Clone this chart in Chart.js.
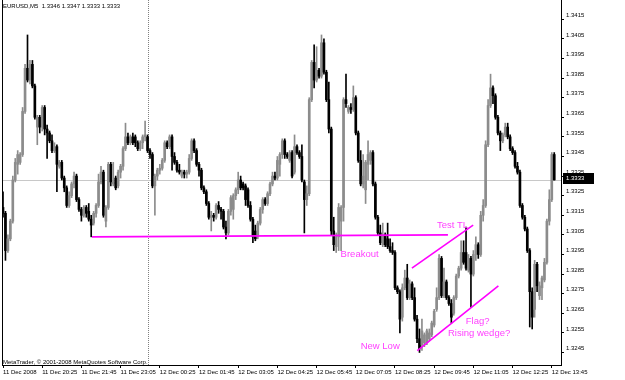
<!DOCTYPE html>
<html lang="en">
<head>
  <meta charset="UTF-8">
  <title>EURUSD,M5</title>
  <script src="https://cdn.jsdelivr.net/npm/chart.js"></script>
  <style>
    body { margin: 0; background: #fff; }
    canvas { display: block; }
  </style>
</head>
<body>
  <canvas id="grafico" width="625" height="380"></canvas>

  <script>
    const symbol = 'EURUSD,M5';

    // M5 bars, 11 Dec 2008 19:05 -> 12 Dec 2008 13:50
    const opens = [
      1.3319,1.3316,1.3297,1.3303,1.3312,1.3333,1.3341,1.3342,1.3346,1.3368,
      1.3390,1.3384,1.3392,1.3381,1.3360,1.3365,1.3360,1.3370,1.3359,1.3357,
      1.3353,1.3348,1.3350,1.3340,1.3342,1.3334,1.3329,1.3320,1.3325,1.3331,
      1.3335,1.3323,1.3318,1.3315,1.3319,1.3317,1.3313,1.3311,1.3316,1.3320,
      1.3332,1.3337,1.3312,1.3319,1.3341,1.3331,1.3334,1.3330,1.3337,1.3340,
      1.3349,1.3355,1.3352,1.3355,1.3355,1.3352,1.3349,1.3352,1.3355,1.3355,
      1.3348,1.3346,1.3330,1.3335,1.3338,1.3339,1.3343,1.3352,1.3350,1.3355,
      1.3345,1.3342,1.3338,1.3335,1.3337,1.3336,1.3337,1.3344,1.3353,1.3348,
      1.3341,1.3338,1.3329,1.3327,1.3321,1.3314,1.3315,1.3314,1.3320,1.3318,
      1.3317,1.3309,1.3306,1.3317,1.3318,1.3325,1.3328,1.3333,1.3331,1.3330,
      1.3328,1.3320,1.3313,1.3307,1.3304,1.3311,1.3318,1.3323,1.3321,1.3326,
      1.3331,1.3335,1.3334,1.3341,1.3346,1.3353,1.3346,1.3343,1.3347,1.3337,
      1.3350,1.3347,1.3345,1.3332,1.3323,1.3326,1.3374,1.3393,1.3384,1.3389,
      1.3386,1.3403,1.3388,1.3374,1.3359,1.3307,1.3299,1.3304,1.3312,1.3319,
      1.3374,1.3368,1.3370,1.3369,1.3375,1.3357,1.3343,1.3331,1.3328,1.3341,
      1.3343,1.3347,1.3331,1.3314,1.3306,1.3300,1.3305,1.3303,1.3299,1.3297,
      1.3296,1.3278,1.3276,1.3263,1.3278,1.3283,1.3273,1.3280,1.3273,1.3262,
      1.3252,1.3249,1.3250,1.3250,1.3252,1.3254,1.3259,1.3267,1.3273,1.3293,
      1.3274,1.3281,1.3273,1.3270,1.3265,1.3273,1.3284,1.3288,1.3296,1.3296,
      1.3287,1.3293,1.3285,1.3295,1.3300,1.3295,1.3315,1.3320,1.3351,1.3371,
      1.3380,1.3376,1.3365,1.3357,1.3353,1.3356,1.3360,1.3355,1.3349,1.3347,
      1.3340,1.3337,1.3320,1.3314,1.3308,1.3297,1.3276,1.3267,1.3290,1.3274,
      1.3278,1.3282,1.3291,1.3312,1.3323,1.3346
    ];
    const highs = [
      1.3327,1.3317,1.3305,1.3313,1.3335,1.3344,1.3348,1.3347,1.3370,1.3392,
      1.3407,1.3394,1.3394,1.3382,1.3366,1.3366,1.3371,1.3371,1.3361,1.3358,
      1.3356,1.3352,1.3351,1.3343,1.3343,1.3335,1.3330,1.3327,1.3332,1.3337,
      1.3336,1.3324,1.3319,1.3320,1.3320,1.3321,1.3315,1.3317,1.3321,1.3336,
      1.3340,1.3338,1.3320,1.3342,1.3342,1.3342,1.3335,1.3338,1.3341,1.3350,
      1.3362,1.3357,1.3356,1.3357,1.3356,1.3353,1.3353,1.3356,1.3363,1.3356,
      1.3349,1.3347,1.3336,1.3339,1.3341,1.3344,1.3353,1.3353,1.3356,1.3356,
      1.3347,1.3343,1.3341,1.3338,1.3338,1.3338,1.3346,1.3354,1.3354,1.3349,
      1.3342,1.3339,1.3330,1.3328,1.3322,1.3317,1.3316,1.3321,1.3322,1.3319,
      1.3318,1.3312,1.3318,1.3325,1.3326,1.3329,1.3337,1.3335,1.3332,1.3331,
      1.3329,1.3322,1.3314,1.3310,1.3312,1.3319,1.3324,1.3324,1.3327,1.3332,
      1.3337,1.3337,1.3345,1.3347,1.3354,1.3354,1.3347,1.3348,1.3348,1.3356,
      1.3351,1.3348,1.3351,1.3333,1.3330,1.3375,1.3394,1.3402,1.3401,1.3390,
      1.3407,1.3405,1.3389,1.3383,1.3360,1.3314,1.3306,1.3321,1.3320,1.3375,
      1.3387,1.3371,1.3372,1.3381,1.3376,1.3358,1.3348,1.3346,1.3343,1.3353,
      1.3348,1.3348,1.3332,1.3315,1.3310,1.3311,1.3306,1.3311,1.3303,1.3301,
      1.3297,1.3279,1.3277,1.3280,1.3287,1.3290,1.3282,1.3281,1.3278,1.3264,
      1.3257,1.3262,1.3255,1.3257,1.3257,1.3261,1.3267,1.3278,1.3295,1.3294,
      1.3288,1.3282,1.3274,1.3272,1.3274,1.3285,1.3289,1.3302,1.3302,1.3309,
      1.3295,1.3294,1.3297,1.3304,1.3301,1.3317,1.3323,1.3353,1.3374,1.3387,
      1.3381,1.3377,1.3366,1.3358,1.3357,1.3362,1.3362,1.3356,1.3350,1.3348,
      1.3342,1.3338,1.3321,1.3315,1.3309,1.3298,1.3278,1.3292,1.3291,1.3281,
      1.3284,1.3293,1.3313,1.3328,1.3347,1.3347
    ];
    const lows = [
      1.3314,1.3292,1.3296,1.3302,1.3311,1.3332,1.3336,1.3341,1.3345,1.3367,
      1.3383,1.3382,1.3380,1.3364,1.3351,1.3357,1.3358,1.3356,1.3344,1.3352,
      1.3347,1.3347,1.3327,1.3339,1.3333,1.3327,1.3319,1.3319,1.3324,1.3329,
      1.3322,1.3317,1.3312,1.3314,1.3314,1.3312,1.3304,1.3310,1.3314,1.3319,
      1.3331,1.3314,1.3309,1.3318,1.3330,1.3330,1.3328,1.3329,1.3334,1.3338,
      1.3348,1.3351,1.3351,1.3351,1.3350,1.3348,1.3348,1.3349,1.3353,1.3347,
      1.3344,1.3329,1.3315,1.3333,1.3336,1.3338,1.3342,1.3349,1.3349,1.3338,
      1.3341,1.3337,1.3336,1.3334,1.3334,1.3334,1.3336,1.3343,1.3347,1.3340,
      1.3335,1.3328,1.3326,1.3320,1.3313,1.3307,1.3312,1.3313,1.3316,1.3313,
      1.3308,1.3303,1.3305,1.3315,1.3313,1.3323,1.3326,1.3328,1.3328,1.3320,
      1.3319,1.3312,1.3301,1.3302,1.3303,1.3310,1.3316,1.3320,1.3320,1.3325,
      1.3330,1.3333,1.3333,1.3335,1.3344,1.3344,1.3344,1.3342,1.3334,1.3336,
      1.3346,1.3344,1.3332,1.3306,1.3320,1.3325,1.3373,1.3380,1.3383,1.3385,
      1.3385,1.3387,1.3373,1.3357,1.3305,1.3297,1.3296,1.3297,1.3297,1.3312,
      1.3370,1.3367,1.3367,1.3368,1.3356,1.3342,1.3330,1.3329,1.3321,1.3333,
      1.3341,1.3330,1.3313,1.3305,1.3300,1.3299,1.3299,1.3298,1.3296,1.3295,
      1.3277,1.3275,1.3255,1.3261,1.3277,1.3272,1.3272,1.3272,1.3261,1.3250,
      1.3245,1.3246,1.3248,1.3249,1.3251,1.3253,1.3258,1.3266,1.3272,1.3273,
      1.3273,1.3272,1.3269,1.3260,1.3264,1.3272,1.3283,1.3287,1.3290,1.3287,
      1.3286,1.3268,1.3284,1.3292,1.3293,1.3294,1.3312,1.3319,1.3350,1.3370,
      1.3372,1.3364,1.3356,1.3348,1.3352,1.3355,1.3354,1.3348,1.3346,1.3339,
      1.3336,1.3319,1.3313,1.3307,1.3296,1.3258,1.3257,1.3263,1.3276,1.3272,
      1.3272,1.3281,1.3290,1.3310,1.3322,1.3333
    ];
    const closes = [
      1.3316,1.3297,1.3303,1.3312,1.3333,1.3342,1.3346,1.3346,1.3368,1.3390,
      1.3384,1.3392,1.3381,1.3365,1.3365,1.3360,1.3370,1.3359,1.3357,1.3353,
      1.3348,1.3350,1.3341,1.3342,1.3334,1.3329,1.3320,1.3325,1.3331,1.3335,
      1.3323,1.3318,1.3315,1.3319,1.3316,1.3313,1.3310,1.3316,1.3320,1.3332,
      1.3337,1.3315,1.3319,1.3341,1.3332,1.3332,1.3329,1.3337,1.3340,1.3349,
      1.3355,1.3352,1.3355,1.3352,1.3352,1.3349,1.3352,1.3355,1.3356,1.3348,
      1.3346,1.3330,1.3335,1.3338,1.3339,1.3343,1.3352,1.3350,1.3355,1.3345,
      1.3342,1.3338,1.3337,1.3337,1.3336,1.3337,1.3344,1.3353,1.3348,1.3341,
      1.3338,1.3329,1.3327,1.3321,1.3314,1.3315,1.3314,1.3320,1.3318,1.3317,
      1.3309,1.3306,1.3317,1.3324,1.3325,1.3328,1.3333,1.3329,1.3329,1.3323,
      1.3320,1.3313,1.3304,1.3303,1.3311,1.3318,1.3323,1.3321,1.3326,1.3331,
      1.3335,1.3334,1.3343,1.3346,1.3353,1.3346,1.3345,1.3347,1.3335,1.3350,
      1.3347,1.3345,1.3333,1.3323,1.3326,1.3374,1.3393,1.3384,1.3389,1.3386,
      1.3403,1.3388,1.3374,1.3359,1.3307,1.3300,1.3304,1.3319,1.3319,1.3374,
      1.3372,1.3370,1.3369,1.3375,1.3357,1.3343,1.3331,1.3335,1.3342,1.3346,
      1.3347,1.3331,1.3314,1.3306,1.3301,1.3305,1.3300,1.3299,1.3297,1.3296,
      1.3278,1.3276,1.3262,1.3278,1.3283,1.3273,1.3280,1.3273,1.3262,1.3252,
      1.3247,1.3256,1.3254,1.3256,1.3255,1.3260,1.3266,1.3273,1.3293,1.3274,
      1.3281,1.3273,1.3270,1.3263,1.3273,1.3284,1.3288,1.3296,1.3291,1.3288,
      1.3293,1.3285,1.3295,1.3300,1.3295,1.3315,1.3320,1.3351,1.3371,1.3380,
      1.3376,1.3365,1.3357,1.3353,1.3356,1.3360,1.3355,1.3349,1.3347,1.3340,
      1.3337,1.3320,1.3314,1.3308,1.3297,1.3276,1.3263,1.3290,1.3279,1.3279,
      1.3283,1.3291,1.3312,1.3323,1.3346,1.3333
    ];

    // time axis: label every 16 bars
    const timeTickBars = [0, 16, 32, 48, 64, 80, 96, 112, 128, 144, 160, 176, 192, 208, 224];
    const timeLabels = [
      '11 Dec 2008', '11 Dec 20:25', '11 Dec 21:45', '11 Dec 23:05', '12 Dec 00:25',
      '12 Dec 01:45', '12 Dec 03:05', '12 Dec 04:25', '12 Dec 05:45', '12 Dec 07:05',
      '12 Dec 08:25', '12 Dec 09:45', '12 Dec 11:05', '12 Dec 12:25', '12 Dec 13:45'
    ];
    const priceTicks = [
      1.3245, 1.3255, 1.3265, 1.3275, 1.3285, 1.3295, 1.3305, 1.3315, 1.3325,
      1.3335, 1.3345, 1.3355, 1.3365, 1.3375, 1.3385, 1.3395, 1.3405, 1.3415
    ];
    const daySeparatorBar = 59; // 12 Dec 00:00

    // hand drawn objects: [bar, price] end points
    const trendLines = [
      [[36.3, 1.3304], [181.6, 1.3305]],
      [[166.9, 1.3288], [191.9, 1.3310]],
      [[169.1, 1.3246], [202.2, 1.3279]]
    ];
    const noteTexts = ['Test TL', 'Breakout', 'New Low', 'Flag?', 'Rising wedge?'];
    const noteBars = [177.1, 137.8, 146.0, 188.9, 181.6];
    const notePrices = [1.3310, 1.3295, 1.3248, 1.3261, 1.3255];

    const upColor = '#8c8c8c';
    const downColor = '#000000';
    const magenta = '#ff00ff';
    const noteColor = '#ff40ff';
    const last = closes.length - 1;

    Chart.defaults.font.family = '"Liberation Sans", Arial, sans-serif';
    Chart.defaults.color = '#000';

    const barColors = closes.map((c, i) => c >= opens[i] ? upColor : downColor);
    const idx = closes.map((c, i) => i);

    const decor = {
      id: 'decor',
      beforeDatasetsDraw(chart) {
        const { ctx, chartArea: a, scales } = chart;
        ctx.save();
        ctx.lineWidth = 1;
        // left frame
        ctx.strokeStyle = '#000';
        ctx.beginPath();
        ctx.moveTo(a.left + 0.5, a.top);
        ctx.lineTo(a.left + 0.5, a.bottom);
        ctx.stroke();
        // day separator (dotted)
        const sx = Math.round(scales.x.getPixelForValue(daySeparatorBar)) + 0.5;
        ctx.strokeStyle = '#808080';
        ctx.setLineDash([1, 1]);
        ctx.beginPath();
        ctx.moveTo(sx, a.top);
        ctx.lineTo(sx, a.bottom);
        ctx.stroke();
        // bid line
        const by = Math.round(scales.y.getPixelForValue(closes[last])) + 0.5;
        ctx.setLineDash([]);
        ctx.strokeStyle = '#c8c8c8';
        ctx.beginPath();
        ctx.moveTo(a.left + 1, by);
        ctx.lineTo(a.right, by);
        ctx.stroke();
        ctx.restore();
      },
      afterDraw(chart) {
        const { ctx, chartArea: a, scales } = chart;
        ctx.save();
        ctx.textBaseline = 'middle';
        ctx.textAlign = 'left';
        ctx.fillStyle = '#000';
        ctx.font = '6px "Liberation Sans", Arial, sans-serif';
        const head = symbol + '  ' + [opens[last], highs[last], lows[last], closes[last]]
          .map(v => v.toFixed(4)).join(' ');
        ctx.fillText(head, 3, 6);
        ctx.fillText('MetaTrader, \u00a9 2001-2008 MetaQuotes Software Corp.', 3, a.bottom - 3);

        // notes
        ctx.fillStyle = noteColor;
        ctx.font = '9.5px "Liberation Sans", Arial, sans-serif';
        noteTexts.forEach((t, i) => {
          ctx.fillText(t, scales.x.getPixelForValue(noteBars[i]), scales.y.getPixelForValue(notePrices[i]));
        });

        // bid box, covers the price label under it
        const by = Math.round(scales.y.getPixelForValue(closes[last]));
        ctx.fillStyle = '#000';
        ctx.fillRect(a.right + 2, by - 7, 31, 11);
        ctx.fillStyle = '#fff';
        ctx.font = '6px "Liberation Sans", Arial, sans-serif';
        ctx.fillText(closes[last].toFixed(4), a.right + 5, by - 1.5);
        ctx.restore();
      }
    };

    const lineSets = trendLines.map(l => ({
      type: 'line',
      data: l.map(p => ({ x: p[0], y: p[1] })),
      borderColor: magenta,
      borderWidth: 1.6,
      pointRadius: 0,
      order: 0
    }));

    new Chart(document.getElementById('grafico').getContext('2d'), {
      type: 'bar',
      data: {
        datasets: [
          {
            data: idx.map(i => ({ x: i, y: [lows[i], highs[i]] })),
            backgroundColor: barColors,
            barThickness: 1,
            grouped: false,
            order: 2
          },
          {
            data: idx.map(i => ({ x: i, y: [opens[i], closes[i]] })),
            backgroundColor: barColors,
            barThickness: 2,
            minBarLength: 1,
            grouped: false,
            order: 1
          },
          ...lineSets
        ]
      },
      options: {
        responsive: false,
        animation: false,
        devicePixelRatio: 1,
        layout: { padding: { left: 2, top: 0, right: 0, bottom: 0 } },
        plugins: { legend: { display: false }, tooltip: { enabled: false } },
        scales: {
          x: {
            type: 'linear',
            offset: false,
            min: -0.41,
            max: 227.76,
            afterBuildTicks: s => { s.ticks = timeTickBars.map(v => ({ value: v })); },
            afterFit: s => { s.height = 15; s.paddingLeft = 0; s.paddingRight = 0; },
            ticks: {
              autoSkip: false,
              maxRotation: 0,
              align: 'start',
              padding: 1,
              font: { size: 6 },
              callback: (v, i) => timeLabels[i]
            },
            grid: { offset: false, drawOnChartArea: false, tickLength: 3, color: '#000' },
            border: { color: '#000' }
          },
          y: {
            position: 'right',
            min: 1.323861,
            max: 1.342484,
            afterBuildTicks: s => { s.ticks = priceTicks.map(v => ({ value: v })); },
            afterFit: s => { s.width = 64; s.paddingTop = 0; s.paddingBottom = 0; },
            ticks: {
              autoSkip: false,
              padding: 2,
              labelOffset: -4,
              font: { size: 6 },
              callback: v => v.toFixed(4)
            },
            grid: { drawOnChartArea: false, tickLength: 3, color: '#000' },
            border: { color: '#000' }
          }
        }
      },
      plugins: [decor]
    });
  </script>
</body>
</html>
